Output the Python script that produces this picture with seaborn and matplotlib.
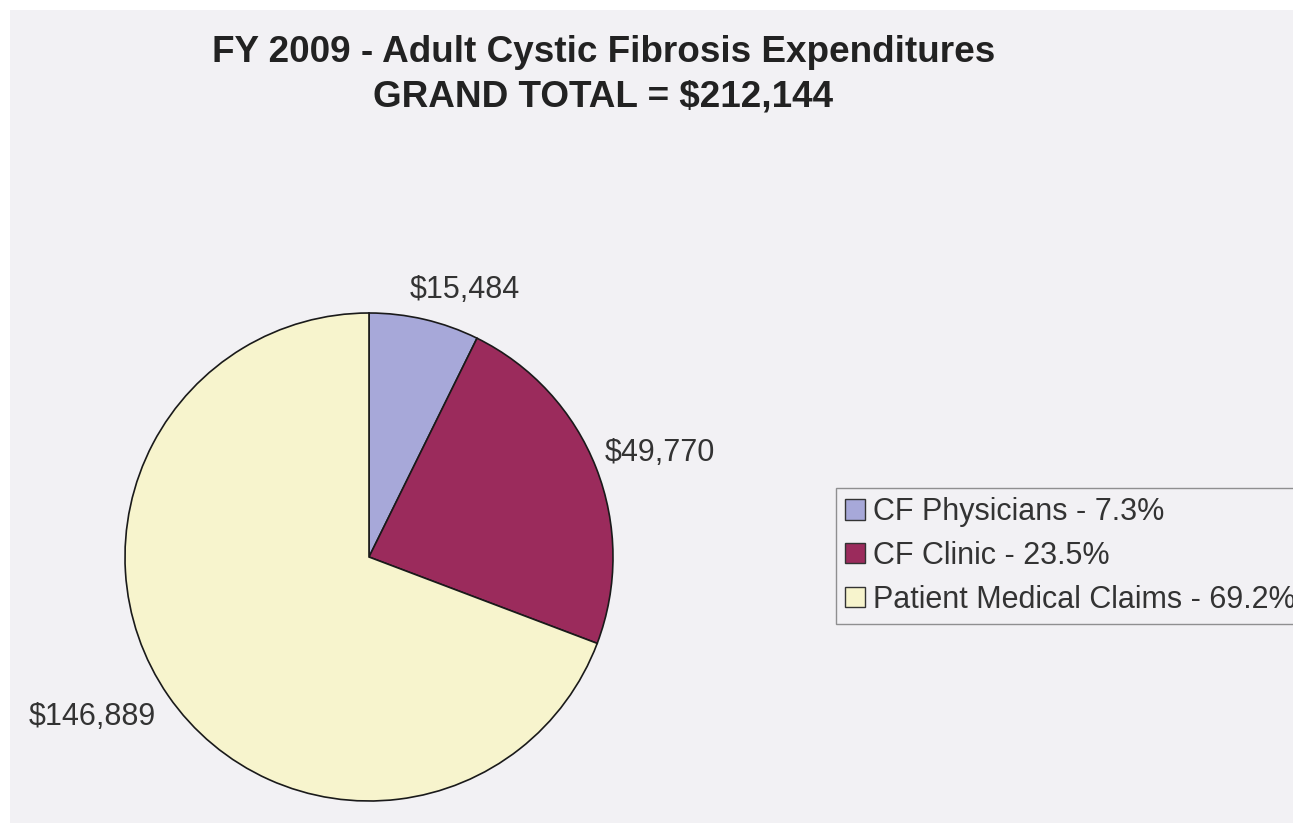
import matplotlib

matplotlib.use("Agg")
import matplotlib.pyplot as plt  # noqa: E402
import seaborn as sns  # noqa: E402
from matplotlib.patches import Rectangle  # noqa: E402

sns.set_theme(style="white")
plt.rcParams["font.family"] = ["Liberation Sans", "DejaVu Sans"]

# --------------------------------------------------------------------------- #
# Data
# --------------------------------------------------------------------------- #
TITLE = "FY 2009 - Adult Cystic Fibrosis Expenditures"
SUBTITLE = "GRAND TOTAL = $212,144"
categories = ["CF Physicians", "CF Clinic", "Patient Medical Claims"]
amounts = [15484, 49770, 146889]
amount_labels = ["$15,484", "$49,770", "$146,889"]
colors = sns.color_palette(["#a7a8d9", "#9b2b5c", "#f7f4cd"])

BG = "#f2f1f4"
W, H = 1293, 823

fig = plt.figure(figsize=(W / 100, H / 100), dpi=100, facecolor="white")
# scanned page area (white scanner margin on left/top)
fig.patches.append(Rectangle((10 / W, 0), 1, 1 - 10 / H, transform=fig.transFigure,
                             facecolor=BG, edgecolor="none", zorder=-10))

# pie axes: centre (369, 557) px, radius 244 px
cx, cy, r = 369, 557, 244
ax = fig.add_axes([(cx - r) / W, (H - cy - r) / H, 2 * r / W, 2 * r / H])
ax.set_zorder(1)
ax.patch.set_alpha(0)

total = sum(amounts)
wedges, _ = ax.pie(amounts, colors=colors, startangle=90, counterclock=False,
                   radius=1, wedgeprops={"edgecolor": "#1a1a1a", "linewidth": 1.2})
ax.set_xlim(-1, 1)
ax.set_ylim(-1, 1)
ax.set_aspect("equal")
ax.axis("off")

# value labels (data-unit offsets relative to pie radius)
label_pos = [(0.393, 1.094, "center"), (0.967, 0.426, "left"), (-1.135, -0.656, "center")]
for txt, (x, y, ha) in zip(amount_labels, label_pos):
    ax.text(x, y, txt, ha=ha, va="center", fontsize=22, color="#333333", clip_on=False)

fig.text(603.5 / W, 1 - 52 / H, TITLE, ha="center", va="center",
         fontsize=26.6, fontweight="bold", color="#222222")
fig.text(603.5 / W, 1 - 97 / H, SUBTITLE, ha="center", va="center",
         fontsize=26.6, fontweight="bold", color="#222222")

legend_labels = [f"{c} - {a / total * 100:.1f}%" for c, a in zip(categories, amounts)]
leg = fig.legend(wedges, legend_labels, loc="upper left",
                 bbox_to_anchor=(836 / W, 1 - 488 / H), bbox_transform=fig.transFigure,
                 fontsize=22, frameon=True, fancybox=False, borderaxespad=0,
                 handlelength=0.65, handleheight=0.65, handletextpad=0.25,
                 labelspacing=0.45, borderpad=0.3)
leg.get_frame().set_edgecolor("#777777")
leg.get_frame().set_facecolor(BG)
leg.get_frame().set_linewidth(1.0)
for t in leg.get_texts():
    t.set_color("#333333")
for h in leg.legend_handles:
    h.set_edgecolor("#333333")
    h.set_linewidth(1.0)

fig.savefig("out.png", dpi=100, facecolor=fig.get_facecolor())
